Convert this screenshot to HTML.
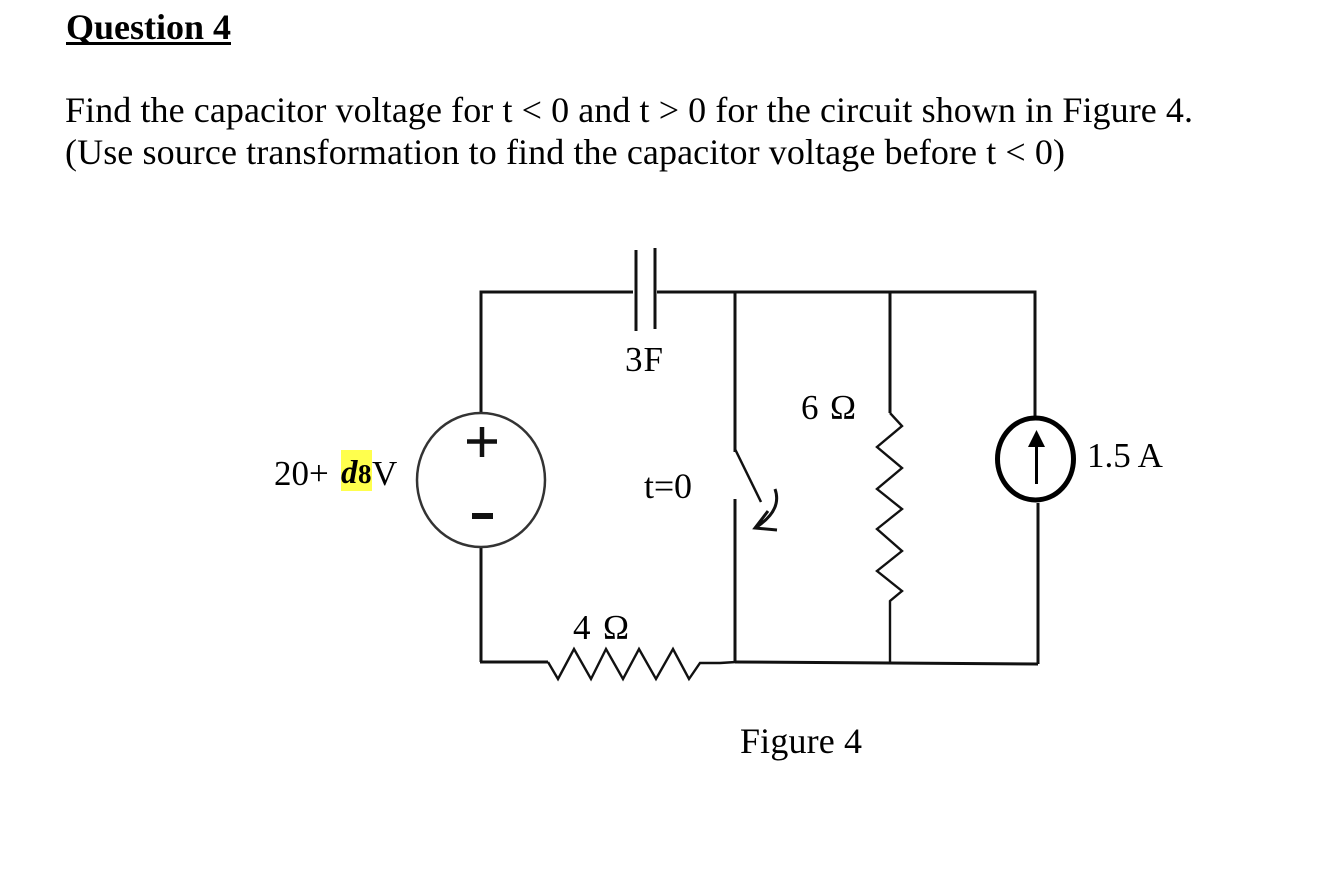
<!DOCTYPE html>
<html>
<head>
<meta charset="utf-8">
<style>
html,body{margin:0;padding:0;background:#fff;width:1336px;height:876px;overflow:hidden}
svg{display:block}
text{font-family:"Liberation Serif",serif;fill:#000}
.w{stroke:#111;stroke-width:3;fill:none}
</style>
</head>
<body>
<svg width="1336" height="876" viewBox="0 0 1336 876">
<text x="66" y="39" font-size="36" font-weight="bold" textLength="165">Question 4</text>
<rect x="66" y="42" width="165" height="3" fill="#000"/>
<text x="65" y="122" font-size="36" textLength="1128">Find the capacitor voltage for t &lt; 0 and t &gt; 0 for the circuit shown in Figure 4.</text>
<text x="65" y="164" font-size="36" textLength="1000">(Use source transformation to find the capacitor voltage before t &lt; 0)</text>

<!-- wires -->
<path class="w" d="M481 662V292H633M657 292H1035V416M735 292V452M735 499V662M890 292V413"/>
<path class="w" d="M481 547V662M480 662H548"/>
<path class="w" d="M1038 503V664M735 662L1038 664"/>

<!-- capacitor -->
<path d="M636 250V331M655 248V329" stroke="#111" stroke-width="3" fill="none"/>

<!-- switch -->
<path d="M735 449L761 502" stroke="#111" stroke-width="2.5" fill="none"/>
<path d="M775 489C780 503 774 516 755 528M768 511L755 528L777 530" stroke="#111" stroke-width="3" fill="none"/>

<!-- bottom resistor -->
<polyline fill="none" stroke="#111" stroke-width="2.4" points="548,662 558,679 574,649 591,679 606,649 623,679 639,649 656,679 673,649 689,679 700,663 720,663 736,662"/>

<!-- right resistor -->
<polyline fill="none" stroke="#111" stroke-width="2.4" points="890,413 902,426 877,447 902,468 877,489 902,509 877,529 902,551 877,571 902,591 890,601 890,662"/>

<!-- voltage source -->
<ellipse cx="481" cy="480" rx="64" ry="67" fill="#fff" stroke="#333" stroke-width="2.5"/>
<path d="M467 441.500H497M482 427V457" stroke="#111" stroke-width="4.500" fill="none"/>
<rect x="472" y="513" width="21" height="6" fill="#111"/>

<!-- current source -->
<ellipse cx="1035.500" cy="459" rx="38" ry="41" fill="#fff" stroke="#000" stroke-width="5"/>
<path d="M1036.500 484V445" stroke="#000" stroke-width="3" fill="none"/>
<polygon points="1036.500,430 1045,447 1028,447" fill="#000"/>

<!-- labels -->
<rect x="341" y="450" width="31" height="41" fill="#ffff4d"/>
<text x="274" y="485" font-size="35">20+</text>
<text x="341" y="483" font-size="33" font-weight="bold" font-style="italic">d</text>
<text x="358" y="483" font-size="27" font-weight="bold">8</text>
<text x="372" y="485" font-size="35">V</text>
<text x="625" y="371" font-size="35" textLength="38">3F</text>
<text x="801" y="419" font-size="35" textLength="55">6 Ω</text>
<text x="1087" y="467" font-size="35">1.5 A</text>
<text x="644" y="498" font-size="36" textLength="48">t=0</text>
<text x="573" y="639" font-size="35" textLength="56">4 Ω</text>
<text x="740" y="753" font-size="36" textLength="122">Figure 4</text>
</svg>
</body>
</html>
